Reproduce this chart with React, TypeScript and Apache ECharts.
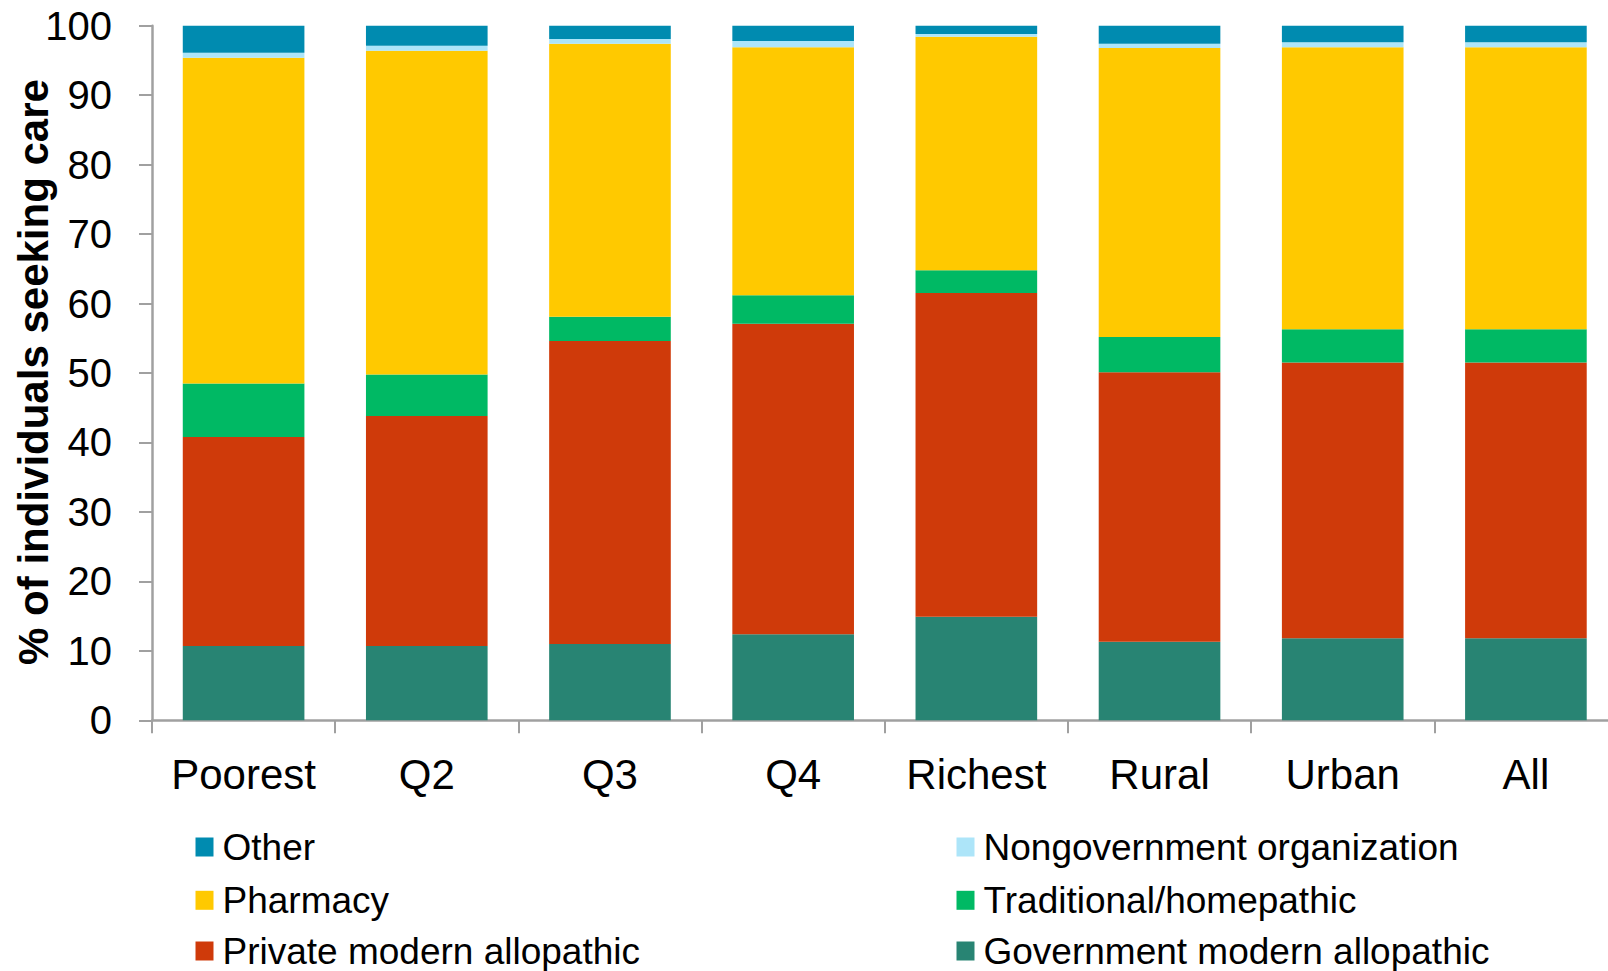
import React, { useEffect, useRef } from "react";
import * as echarts from "echarts";

const categories = ["Poorest", "Q2", "Q3", "Q4", "Richest", "Rural", "Urban", "All"];
const government = [10.7, 10.7, 11.0, 12.4, 14.9, 11.3, 11.8, 11.8];
const privateModern = [30.1, 33.1, 43.6, 44.7, 46.6, 38.8, 39.7, 39.7];
const traditional = [7.7, 6.0, 3.5, 4.1, 3.3, 5.1, 4.8, 4.8];
const pharmacy = [46.9, 46.6, 39.3, 35.7, 33.6, 41.6, 40.6, 40.6];
const ngo = [0.7, 0.7, 0.7, 0.9, 0.4, 0.6, 0.7, 0.7];
const other = [3.9, 2.9, 1.9, 2.2, 1.2, 2.6, 2.4, 2.4];

const yTitle = "% of individuals seeking care";

const seriesNames = [
  "Government modern allopathic",
  "Private modern allopathic",
  "Traditional/homepathic",
  "Pharmacy",
  "Nongovernment organization",
  "Other",
];
const seriesData = [government, privateModern, traditional, pharmacy, ngo, other];
const seriesColors = ["#288473", "#CF3A0A", "#00B964", "#FFC900", "#ADE5F9", "#008BB0"];

// legend layout: [name, column, row]
const legendItems: [string, number, number][] = [
  ["Other", 0, 0],
  ["Nongovernment organization", 1, 0],
  ["Pharmacy", 0, 1],
  ["Traditional/homepathic", 1, 1],
  ["Private modern allopathic", 0, 2],
  ["Government modern allopathic", 1, 2],
];

const FONT = "'Liberation Sans', Arial, sans-serif";

export default function App() {
  const ref = useRef<HTMLDivElement>(null);

  useEffect(() => {
    if (!ref.current) return;
    const chart = echarts.init(ref.current, null, { renderer: "svg" });

    const colLeft = [195.5, 956.5];
    const rowTop = [828.5, 881.8, 932.5];

    chart.setOption({
      animation: false,
      textStyle: { fontFamily: FONT },
      grid: {
        left: 152,
        right: -9.5,
        top: 25.7,
        bottom: 250.7,
        containLabel: false,
        outerBoundsMode: "none",
      },
      graphic: [
        {
          type: "text",
          x: 33,
          y: 372,
          rotation: Math.PI / 2,
          style: {
            text: yTitle,
            fontSize: 42,
            fontWeight: "bold",
            fontFamily: FONT,
            fill: "#000",
            align: "center",
            verticalAlign: "middle",
          },
        },
      ],
      legend: legendItems.map(([name, c, r]) => ({
        orient: "horizontal",
        icon: "rect",
        itemWidth: 18,
        itemHeight: 19,
        selectedMode: false,
        left: colLeft[c],
        top: rowTop[r],
        padding: 0,
        data: [name],
        textStyle: {
          fontSize: 37,
          fontFamily: FONT,
          color: "#000",
          lineHeight: 34,
          padding: [0, 0, 0, 4],
        },
      })),
      xAxis: {
        type: "category",
        data: categories,
        axisLine: { show: true, lineStyle: { color: "#A0A0A0", width: 2.5 } },
        axisTick: { show: true, alignWithLabel: false, interval: 0, length: 13, lineStyle: { color: "#A0A0A0", width: 2 } },
        axisLabel: { fontSize: 42, color: "#000", fontFamily: FONT, margin: 33, interval: 0 },
      },
      yAxis: {
        type: "value",
        min: 0,
        max: 100,
        interval: 10,
        splitLine: { show: false },
        axisLine: { show: true, lineStyle: { color: "#A0A0A0", width: 2.5 } },
        axisTick: { show: true, inside: false, length: 13, lineStyle: { color: "#A0A0A0", width: 2 } },
        axisLabel: { fontSize: 40, color: "#000", fontFamily: FONT, margin: 40 },
      },
      series: seriesNames.map((name, i) => ({
        name,
        type: "bar",
        stack: "total",
        barWidth: "66.4%",
        data: seriesData[i],
        itemStyle: { color: seriesColors[i] },
      })),
    });

    return () => chart.dispose();
  }, []);

  return (
    <div
      ref={ref}
      style={{ position: "fixed", left: 0, top: 0, width: 1608, height: 971, background: "#fff" }}
    />
  );
}
